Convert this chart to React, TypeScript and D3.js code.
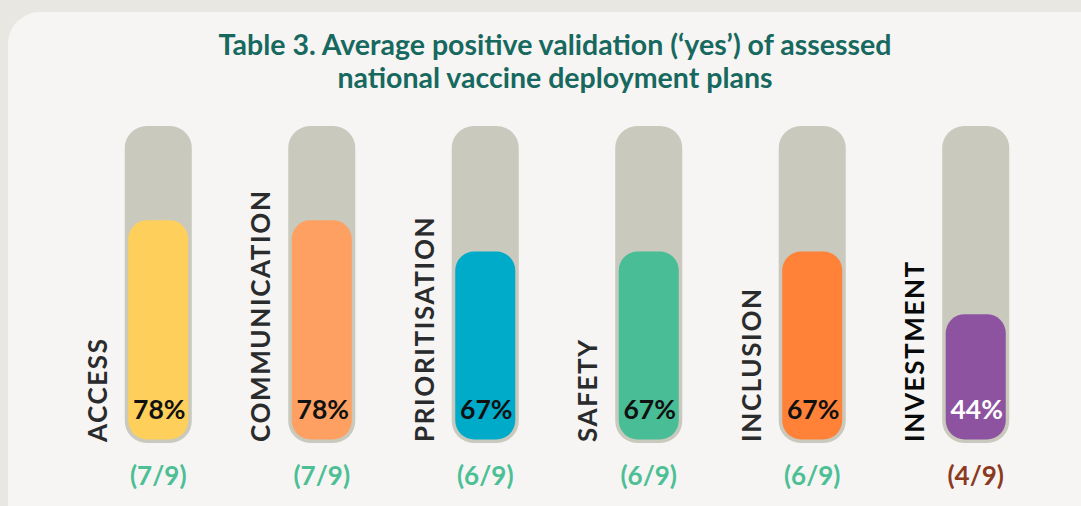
import * as d3 from "d3";

const categories = ["ACCESS", "COMMUNICATION", "PRIORITISATION", "SAFETY", "INCLUSION", "INVESTMENT"];
const yesCounts = [7, 7, 6, 6, 6, 4];
const totalPlans = 9;
const percentLabels = ["78%", "78%", "67%", "67%", "67%", "44%"];
const fillColors = ["#fed05b", "#fda061", "#00abc9", "#48bd96", "#ff8238", "#8e53a0"];
const pctColors = ["#111", "#111", "#111", "#111", "#111", "#fff"];
const fracColors = ["#4cbf95", "#4cbf95", "#4cbf95", "#4cbf95", "#4cbf95", "#8a3a1f"];
const titleLines = [
  "Table 3. Average positive validation (\u2018yes\u2019) of assessed",
  "national vaccine deployment plans",
];

const W = 1081;
const H = 506;

export default function App() {
  const x = d3.scaleBand().domain(categories).range([43, 1091]).paddingInner(0.59).paddingOuter(0.5);
  const trackTop = 126;
  const trackBottom = 443;
  const inset = 3.5;
  const y = d3.scaleLinear().domain([0, 1]).range([trackBottom - inset, trackBottom - inset - 282]);
  const bw = x.bandwidth();

  return (
    <div style={{ position: "fixed", left: 0, top: 0 }}>
      <svg width={W} height={H} style={{ display: "block" }}>
        <rect width={W} height={H} fill="#e9e7e2" />
        <rect x={8} y={12} width={1110} height={540} rx={32} fill="#f6f5f3" />
        {titleLines.map((t, i) => (
          <text
            key={i}
            x={555}
            y={55 + i * 33}
            textAnchor="middle"
            fontFamily="Lato, sans-serif"
            fontWeight={700}
            fontSize={28.5}
            fill="#17695f"
          >
            {t}
          </text>
        ))}
        {categories.map((c, i) => {
          const x0 = x(c) as number;
          const cx = x0 + bw / 2;
          const v = yesCounts[i] / totalPlans;
          const fy = y(v);
          const fb = y(0);
          return (
            <g key={c}>
              <rect x={x0} y={trackTop} width={bw} height={trackBottom - trackTop} rx={22} fill="#c9c9bd" />
              <rect
                x={x0 + inset}
                y={fy}
                width={bw - inset * 2}
                height={fb - fy}
                rx={19}
                fill={fillColors[i]}
              />
              <text
                transform={`translate(${x0 - 18},${trackBottom - 1}) rotate(-90)`}
                fontFamily="Lato, sans-serif"
                fontWeight={700}
                fontSize={26}
                letterSpacing={1.6}
                fill={i === 5 ? "#0a0a0a" : "#2a2b2d"}
              >
                {c}
              </text>
              <text
                x={cx + 1}
                y={419}
                textAnchor="middle"
                fontFamily="Lato, sans-serif"
                fontWeight={700}
                fontSize={26.5}
                fill={pctColors[i]}
              >
                {percentLabels[i]}
              </text>
              <text
                x={cx}
                y={485}
                textAnchor="middle"
                fontFamily="Lato, sans-serif"
                fontWeight={700}
                fontSize={26}
                fill={fracColors[i]}
              >
                {`(${yesCounts[i]}/${totalPlans})`}
              </text>
            </g>
          );
        })}
      </svg>
    </div>
  );
}
